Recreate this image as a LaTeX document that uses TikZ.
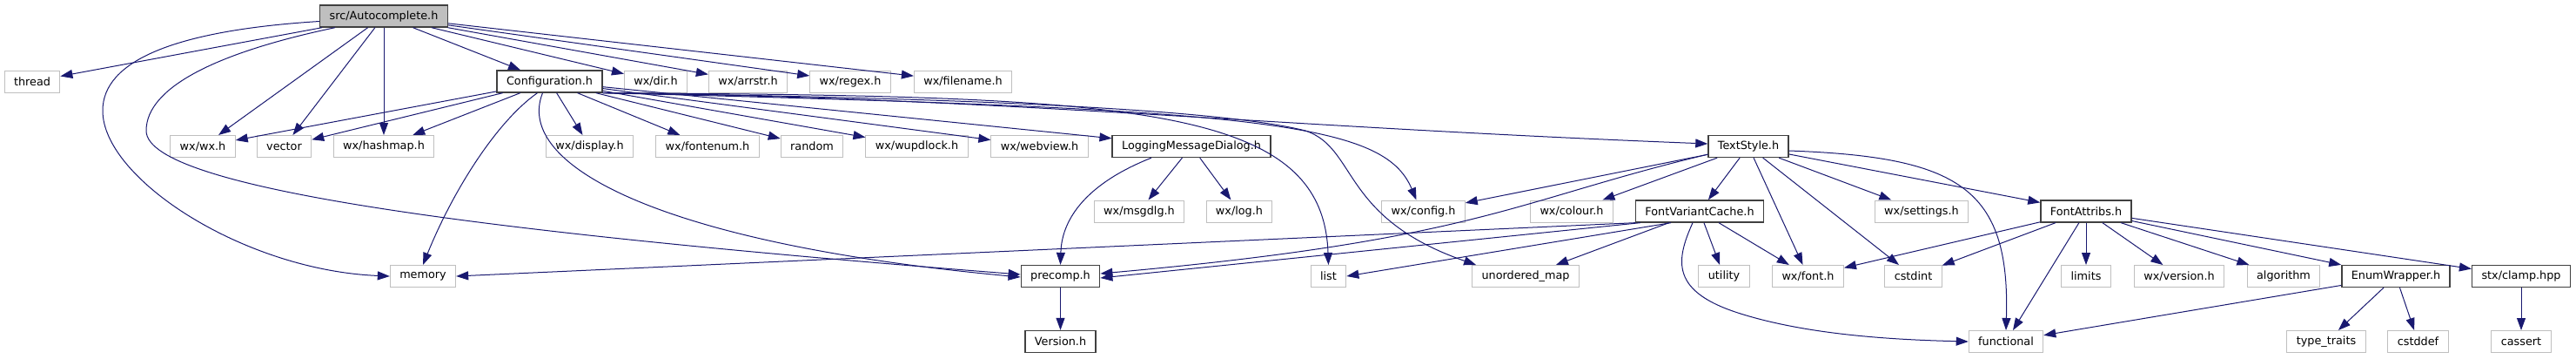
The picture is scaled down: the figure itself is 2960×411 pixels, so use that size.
\documentclass[tikz,border=0pt]{standalone}
\usepackage{fontspec}
\setmainfont{DejaVu Sans}
\usepackage{tikz}
\usetikzlibrary{arrows.meta,calc}
\definecolor{DOXedge}{HTML}{191970}
\definecolor{DOXgrey}{HTML}{BFBFBF}
\definecolor{DOXdark}{HTML}{404040}

\begin{document}
\begin{tikzpicture}[x=0.75pt,y=-0.75pt]

%% ── helpers ───────────────────────────────────────────────
\tikzset{
  filebox/.style={rectangle,draw=DOXdark,line width=1pt,fill=white,
                  inner xsep=8.2pt,minimum height=18.75pt,
                  font=\fontsize{9.6}{11}\selectfont},
  extbox/.style={filebox,draw=DOXgrey,line width=0.75pt},
  rootbox/.style={filebox,fill=DOXgrey},
  dep/.style={-{Triangle[length=10.5pt,width=7.5pt]},DOXedge,line width=0.75pt},
}
\useasboundingbox (0,0) rectangle (2960,411);

%% ── row 0 ────────────────────────────────────────────────
\node[rootbox] (root) at (441,18.5) {src/Autocomplete.h};

%% ── row 1 ────────────────────────────────────────────────
\node[extbox]  (thread)   at (37,93.5)     {thread};
\node[filebox] (config)   at (631.5,93.5)  {Configuration.h};
\node[extbox]  (dir)      at (753.5,93.5)  {wx/dir.h};
\node[extbox]  (arrstr)   at (859.5,93.5)  {wx/arrstr.h};
\node[extbox]  (regex)    at (977,93.5)    {wx/regex.h};
\node[extbox]  (filename) at (1106.5,93.5) {wx/filename.h};

%% ── row 2 ────────────────────────────────────────────────
\node[extbox]  (wxwx)      at (233,168)    {wx/wx.h};
\node[extbox]  (vector)    at (326.5,168)  {vector};
\node[extbox]  (hashmap)   at (441,168)    {wx/hashmap.h};
\node[extbox]  (display)   at (677.5,168)  {wx/display.h};
\node[extbox]  (fontenum)  at (813,168)    {wx/fontenum.h};
\node[extbox]  (random)    at (933,168)    {random};
\node[extbox]  (wupdlock)  at (1053.5,168) {wx/wupdlock.h};
\node[extbox]  (webview)   at (1194.5,168) {wx/webview.h};
\node[filebox] (lmd)       at (1369,168)   {LoggingMessageDialog.h};
\node[filebox] (textstyle) at (2009,168)   {TextStyle.h};

%% ── row 3 ────────────────────────────────────────────────
\node[extbox]  (msgdlg)   at (1309,242.5)   {wx/msgdlg.h};
\node[extbox]  (wxlog)    at (1424,242.5)   {wx/log.h};
\node[extbox]  (wxconfig) at (1635.5,242.5) {wx/config.h};
\node[extbox]  (colour)   at (1806,242.5)   {wx/colour.h};
\node[filebox] (fvc)      at (1953,242.5)   {FontVariantCache.h};
\node[extbox]  (settings) at (2208,242.5)   {wx/settings.h};
\node[filebox] (fattr)    at (2397,242.5)   {FontAttribs.h};

%% ── row 4 ────────────────────────────────────────────────
\node[extbox]  (memory)    at (486,317)    {memory};
\node[filebox] (precomp)   at (1218.5,317) {precomp.h};
\node[extbox]  (list)      at (1526.5,317) {list};
\node[extbox]  (umap)      at (1753,317)   {unordered\_map};
\node[extbox]  (utility)   at (1981,317)   {utility};
\node[extbox]  (font)      at (2077.5,317) {wx/font.h};
\node[extbox]  (cstdint)   at (2198.5,317) {cstdint};
\node[extbox]  (limits)    at (2397,317)   {limits};
\node[extbox]  (wxversion) at (2504,317)   {wx/version.h};
\node[extbox]  (algorithm) at (2624,317)   {algorithm};
\node[filebox] (enumw)     at (2753,317)   {EnumWrapper.h};
\node[filebox] (clamp)     at (2897,317)   {stx/clamp.hpp};

%% ── row 5 ────────────────────────────────────────────────
\node[filebox] (version)    at (1218.5,392) {Version.h};
\node[extbox]  (functional) at (2305,392)   {functional};
\node[extbox]  (typetraits) at (2673,392)   {type\_traits};
\node[extbox]  (cstddef)    at (2778.5,392) {cstddef};
\node[extbox]  (cassert)    at (2897,392)   {cassert};

%% ── src/Autocomplete.h ───────────────────────────────────
\draw[dep] (root) -- (thread);
\draw[dep] ($(root.west)+(0,6)$) .. controls (200,35) and (118,70) .. (118,127)
           .. controls (118,205) and (280,310) .. (memory.west);
\draw[dep] ($(root.south west)+(18,0)$) .. controls (250,60) and (168,100) .. (168,150)
           .. controls (168,220) and (600,270) .. ($(precomp.west)+(0,-2)$);
\foreach \dst in {wxwx,vector,hashmap,config,dir,arrstr,regex,filename}
  \draw[dep] (root) -- (\dst);

%% ── Configuration.h ──────────────────────────────────────
\foreach \dst in {wxwx,vector,hashmap,display,fontenum,random,wupdlock,webview,lmd}
  \draw[dep] (config) -- (\dst);
\draw[dep] ($(config.south)+(-14,0)$) .. controls (570,140) and (520,220) .. (memory.north);
\draw[dep] ($(config.south)+(-8,0)$) .. controls (590,190) and (760,280) .. ($(precomp.west)+(0,1)$);
\draw[dep] (config.south east) .. controls (1150,112) and (1450,145) .. ($(textstyle.west)+(0,-3)$);
\draw[dep] (config.south east) .. controls (1450,125) and (1590,140) .. ($(wxconfig.north)+(-8,0)$);
\draw[dep] (config.south east) .. controls (1300,110) and (1520,120) .. (list.north);
\draw[dep] (config.south east) .. controls (1100,112) and (1400,125) .. (1500,150)
           .. controls (1560,170) and (1540,250) .. ($(umap.north west)+(5,0)$);

%% ── LoggingMessageDialog.h / precomp.h ───────────────────
\draw[dep] ($(lmd.south)+(-46,0)$) .. controls (1250,210) and (1220,250) .. (precomp.north);
\draw[dep] (lmd) -- (msgdlg);
\draw[dep] (lmd) -- (wxlog);
\draw[dep] (precomp) -- (version);

%% ── TextStyle.h ──────────────────────────────────────────
\draw[dep] (textstyle) -- (wxconfig);
\draw[dep] ($(textstyle.south west)+(0,-4)$) .. controls (1740,230) and (1700,275) .. ($(precomp.east)+(0,-3)$);
\foreach \dst in {colour,fvc,font,cstdint,settings,fattr}
  \draw[dep] (textstyle) -- (\dst);
\draw[dep] ($(textstyle.east)+(0,5)$) .. controls (2250,180) and (2310,215) .. (functional.north);

%% ── FontVariantCache.h ───────────────────────────────────
\draw[dep] (fvc.south west) -- (memory.east);
\draw[dep] ($(fvc.south west)+(6,0)$) -- ($(precomp.east)+(0,2)$);
\draw[dep] ($(fvc.south)+(-33,0)$) -- (list.east);
\foreach \dst in {umap,utility,font}
  \draw[dep] (fvc) -- (\dst);
\draw[dep] ($(fvc.south)+(-8,0)$) .. controls (1925,300) and (1920,335) .. (2000,360)
           .. controls (2080,385) and (2180,390) .. (functional.west);

%% ── FontAttribs.h / EnumWrapper.h / stx/clamp.hpp ────────
\foreach \dst in {font,cstdint,functional,limits,wxversion,algorithm,enumw,clamp}
  \draw[dep] (fattr) -- (\dst);
\foreach \dst in {functional,typetraits,cstddef}
  \draw[dep] (enumw) -- (\dst);
\draw[dep] (clamp) -- (cassert);

\end{tikzpicture}
\end{document}
